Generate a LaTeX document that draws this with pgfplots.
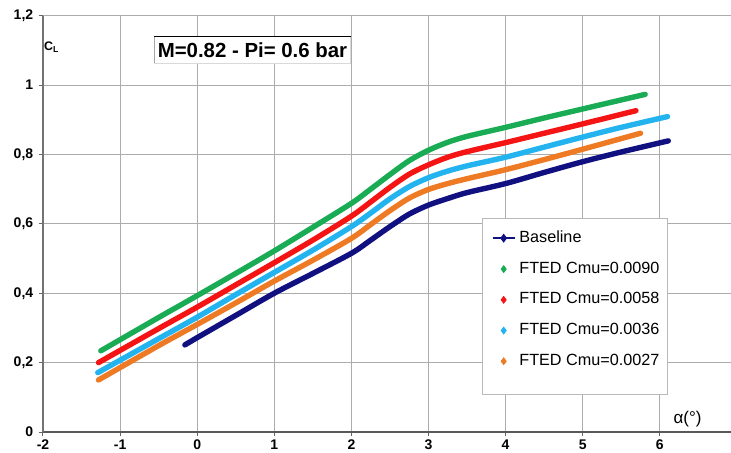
\documentclass[border=0pt]{standalone}
\usepackage{fontspec}
\setmainfont{Liberation Sans}
\usepackage{pgfplots}
\pgfplotsset{compat=1.18}

\definecolor{cbase}{RGB}{16,16,128}
\definecolor{cgreen}{RGB}{26,172,84}
\definecolor{cred}{RGB}{245,20,20}
\definecolor{ccyan}{RGB}{35,180,240}
\definecolor{corange}{RGB}{238,122,36}
\definecolor{gridc}{RGB}{172,172,172}

\pgfplotsset{
  linelegend/.style={legend image code/.code={%
    \draw[mark repeat=2,mark phase=2,##1] plot coordinates {(0pt,0pt) (5.5pt,0pt) (11pt,0pt)};}},
  dotlegend/.style={legend image code/.code={%
    \draw[##1] plot coordinates {(5.5pt,0pt)};}},
}

\begin{document}
\begin{tikzpicture}
\begin{axis}[
  scale only axis, width=344pt, height=208.2pt,
  xmin=-2, xmax=6.923, ymin=0, ymax=1.2,
  xtick={-2,-1,0,1,2,3,4,5,6},
  xticklabels={-2,-1,0,1,2,3,4,5,6},
  ytick={0,0.2,0.4,0.6,0.8,1,1.2},
  yticklabels={0,{0,2},{0,4},{0,6},{0,8},1,{1,2}},
  grid=major,
  major grid style={gridc, line width=0.5pt},
  axis x line*=bottom, axis y line*=left,
  x axis line style={-, line width=1.1pt, black!65},
  y axis line style={-, line width=0.6pt, black!55},
  tick align=outside, major tick length=2.2pt,
  tick style={black!60, line width=0.5pt},
  ticklabel style={font=\bfseries\fontsize{7}{8}\selectfont},
  xticklabel style={anchor=north, inner sep=0pt, yshift=-1.6pt},
  yticklabel style={anchor=east, inner sep=0pt, xshift=-2.5pt},
  legend style={at={(axis cs:3.74,0.604)}, anchor=north west, draw=none, fill=none,
    font=\fontsize{8.1}{9.5}\selectfont, row sep=4.2pt, cells={anchor=west}},
  legend cell align=left,
]
% legend frame, drawn over the grid
\draw[gray!55, fill=white] (axis cs:3.70,0.617) rectangle (axis cs:6.10,0.107);

% Baseline
\addplot[cbase, line width=2.7pt, smooth, line cap=round, forget plot] coordinates {
  (-0.16,0.251) (0,0.272) (0.5,0.336) (1,0.400) (1.5,0.457) (2,0.515)
  (2.25,0.553) (2.5,0.592) (2.75,0.628) (3,0.654) (3.25,0.673) (3.5,0.690) (4,0.716)
  (4.5,0.748) (5,0.779) (5.5,0.807) (6.11,0.839)};
% FTED Cmu=0.0090
\addplot[cgreen, line width=2.7pt, smooth, line cap=round, forget plot] coordinates {
  (-1.25,0.234) (-0.5,0.330) (0,0.393) (0.5,0.457) (1,0.522) (1.5,0.590)
  (2,0.659) (2.25,0.700) (2.5,0.742) (2.75,0.782) (3,0.812) (3.25,0.835) (3.5,0.852)
  (4,0.878) (4.5,0.905) (5,0.931) (5.5,0.957) (5.81,0.973)};
% FTED Cmu=0.0058
\addplot[cred, line width=2.7pt, smooth, line cap=round, forget plot] coordinates {
  (-1.28,0.200) (-0.5,0.298) (0,0.360) (0.5,0.424) (1,0.488) (1.5,0.553)
  (2,0.622) (2.25,0.663) (2.5,0.705) (2.75,0.743) (3,0.770) (3.25,0.792) (3.5,0.808)
  (4,0.834) (4.5,0.861) (5,0.888) (5.69,0.926)};
% FTED Cmu=0.0036
\addplot[ccyan, line width=2.7pt, smooth, line cap=round, forget plot] coordinates {
  (-1.29,0.171) (-0.5,0.269) (0,0.331) (0.5,0.396) (1,0.460) (1.5,0.524)
  (2,0.592) (2.25,0.631) (2.5,0.672) (2.75,0.707) (3,0.733) (3.25,0.752) (3.5,0.767)
  (4,0.792) (4.5,0.821) (5,0.850) (5.5,0.878) (6.10,0.909)};
% FTED Cmu=0.0027
\addplot[corange, line width=2.7pt, smooth, line cap=round, forget plot] coordinates {
  (-1.28,0.150) (-0.5,0.249) (0,0.310) (0.5,0.372) (1,0.435) (1.5,0.495)
  (2,0.558) (2.25,0.598) (2.5,0.638) (2.75,0.674) (3,0.699) (3.25,0.716) (3.5,0.730)
  (4,0.756) (4.5,0.785) (5,0.815) (5.75,0.861)};

\addlegendimage{linelegend, cbase, line width=0.7pt, mark=diamond*, mark size=1.7pt}
\addlegendentry{Baseline}
\addlegendimage{dotlegend, cgreen, only marks, mark=diamond*, mark size=1.7pt}
\addlegendentry{FTED Cmu=0.0090}
\addlegendimage{dotlegend, cred, only marks, mark=diamond*, mark size=1.7pt}
\addlegendentry{FTED Cmu=0.0058}
\addlegendimage{dotlegend, ccyan, only marks, mark=diamond*, mark size=1.7pt}
\addlegendentry{FTED Cmu=0.0036}
\addlegendimage{dotlegend, corange, only marks, mark=diamond*, mark size=1.7pt}
\addlegendentry{FTED Cmu=0.0027}

% condition box
\node[font=\bfseries\fontsize{10.2}{12}\selectfont, fill=white, inner sep=0pt,
      minimum width=98pt, minimum height=13pt] (tb) at (axis cs:0.717,1.101)
      {M=0.82 - Pi= 0.6 bar};
\draw[black, line width=0.6pt] (tb.north west) -- (tb.north east);
\draw[gray!70, line width=0.5pt] (tb.north west) -- (tb.south west);
\draw[gray!30, line width=0.5pt] (tb.south west) -- (tb.south east) -- (tb.north east);

% axis names
\node[font=\bfseries\fontsize{6.2}{7}\selectfont] at (axis cs:-1.885,1.109) {C\textsubscript{L}};
\node[font=\fontsize{8.5}{10}\selectfont] at (axis cs:6.36,0.037) {α(°)};
\end{axis}
\pgfresetboundingbox
\path[use as bounding box] ([xshift=-21.5pt, yshift=-10pt]current axis.south west)
  rectangle ([yshift=7.8pt]current axis.north east);
\end{tikzpicture}
\end{document}
